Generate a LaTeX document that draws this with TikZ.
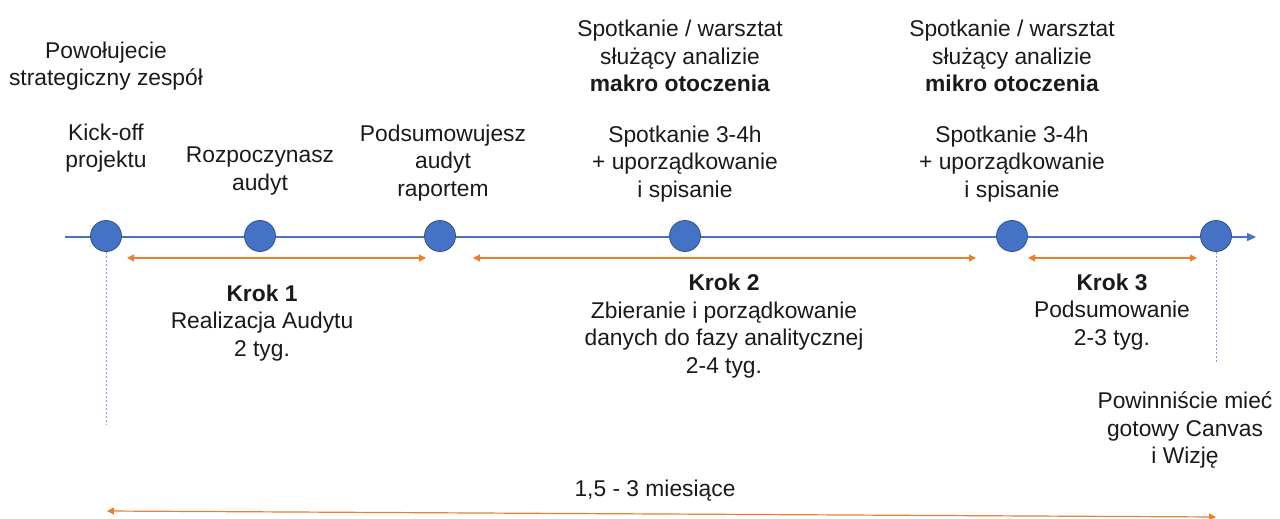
\documentclass[tikz,border=0pt]{standalone}
\usepackage{fontspec}
\setmainfont{Liberation Sans}
\usetikzlibrary{arrows.meta}
\definecolor{tlblue}{HTML}{4472C4}
\definecolor{tledge}{HTML}{2F528F}
\definecolor{tlorange}{HTML}{ED7D31}
\definecolor{ink}{HTML}{1A1A1A}
\tikzset{
  milestone/.style={circle, fill=tlblue, draw=tledge, line width=0.8pt, minimum size=31pt, inner sep=0pt},
  label/.style={align=center, text=ink, font=\fontsize{22.8}{27.6}\selectfont, inner sep=0pt},
  span/.style={draw=tlorange, line width=1.2pt, {Triangle[length=7pt,width=7pt]}-{Triangle[length=7pt,width=7pt]}},
  guide/.style={draw=tlblue!70, line width=0.8pt, dash pattern=on 2pt off 2pt},
}
\begin{document}
\begin{tikzpicture}[x=1pt,y=-1pt]
\useasboundingbox (0,0) rectangle (1280,519);

% timeline axis and milestones
\coordinate (axisL) at (65,237);
\coordinate (axisR) at (1256,237);
\draw[tlblue, line width=1.5pt, -{Triangle[length=9pt,width=8pt]}] (axisL) -- (axisR);
\node[milestone] (m1) at (106,236) {};
\node[milestone] (m2) at (260,236) {};
\node[milestone] (m3) at (440,236) {};
\node[milestone] (m4) at (685,236) {};
\node[milestone] (m5) at (1012,236) {};
\node[milestone] (m6) at (1216,236) {};

% vertical guides
\coordinate (g1) at (106,425);
\coordinate (g6) at (1216,362);
\draw[guide] (m1.south) -- (g1);
\draw[guide] (m6.south) -- (g6);

% step spans
\coordinate (s1a) at (127,258); \coordinate (s1b) at (426,258);
\coordinate (s2a) at (473,258); \coordinate (s2b) at (976,258);
\coordinate (s3a) at (1028,258); \coordinate (s3b) at (1197,258);
\draw[span] (s1a) -- (s1b);
\draw[span] (s2a) -- (s2b);
\draw[span] (s3a) -- (s3b);

% overall duration
\coordinate (tA) at (107,511);
\coordinate (tB) at (1216,517);
\draw[span] (tA) -- (tB);
\node[label] (total) at (655,491) {1,5 - 3 miesiące};

% milestone captions
\node[label] (team) at (106,66) {Powołujecie\\strategiczny zespół};
\node[label] (kick) at (106,148) {Kick-off\\projektu};
\node[label] (start) at (260,171) {Rozpoczynasz\\audyt};
\node[label] (report) at (443,163) {Podsumowujesz\\audyt\\raportem};
\node[label] (macro) at (680,56) {Spotkanie / warsztat\\służący analizie\\\textbf{makro otoczenia}};
\node[label] (meet1) at (685,164) {Spotkanie 3-4h\\+ uporządkowanie\\i spisanie};
\node[label] (micro) at (1012,56) {Spotkanie / warsztat\\służący analizie\\\textbf{mikro otoczenia}};
\node[label] (meet2) at (1012,164) {Spotkanie 3-4h\\+ uporządkowanie\\i spisanie};

% step descriptions
\node[label] (k1) at (262,323) {\textbf{Krok 1}\\Realizacja Audytu\\2 tyg.};
\node[label] (k2) at (724,326) {\textbf{Krok 2}\\Zbieranie i porządkowanie\\danych do fazy analitycznej\\2-4 tyg.};
\node[label] (k3) at (1112,312) {\textbf{Krok 3}\\Podsumowanie\\2-3 tyg.};
\node[label] (goal) at (1185,430) {Powinniście mieć\\gotowy Canvas\\i Wizję};
\end{tikzpicture}
\end{document}
